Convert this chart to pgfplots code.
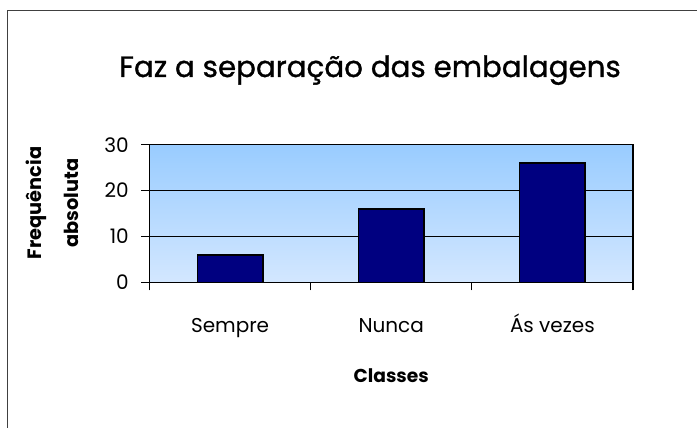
\documentclass[border=0pt]{standalone}
\usepackage{fontspec}
\setmainfont{Poppins}
\newfontfamily\titlefont{Poppins}[FakeBold=1]
\usepackage{pgfplots}
\pgfplotsset{compat=1.18}
\definecolor{navybar}{HTML}{000080}
\definecolor{bgtop}{HTML}{99CCFF}
\definecolor{bgbot}{HTML}{D3E7FF}
\definecolor{framegray}{HTML}{404040}
\begin{document}
\begin{tikzpicture}
\useasboundingbox (0,0) rectangle (522.75pt,-321pt);
\draw[framegray, line width=1pt] (5.5pt,-325pt) -- (5.5pt,-8pt) -- (525pt,-8pt);
\node[anchor=base, font=\titlefont\fontsize{22}{26}\selectfont, inner sep=0pt] at (277.5pt,-57.75pt) {Faz a separação das embalagens};
\begin{axis}[
  at={(112.125pt,-211.725pt)}, anchor=south west,
  scale only axis, width=362.625pt, height=103.2pt,
  xmin=-0.5, xmax=2.5, ymin=0, ymax=30,
  xtick={0,1,2}, xticklabels={Sempre,Nunca,Ás vezes},
  major x tick style={draw=none},
  minor xtick={-0.5,0.5,1.5,2.5},
  ytick={0,10,20,30},
  xtick pos=bottom, ytick pos=left,
  tick align=outside, major tick length=6pt, minor tick length=6pt,
  tick style={black, line width=0.8pt},
  ymajorgrids, grid style={black, line width=0.7pt},
  axis line style={black, line width=1.1pt},
  axis background/.style={top color=bgtop, bottom color=bgbot},
  /pgf/number format/assume math mode=true,
  ticklabel style={font=\fontsize{15}{18}\selectfont},
  xticklabel style={anchor=base, yshift=-31.5pt},
  yticklabel style={xshift=-6pt},
  xlabel={Classes},
  xlabel style={at={(axis description cs:0.5,0)}, anchor=base, yshift=-74.8pt, font=\bfseries\fontsize{14}{17}\selectfont},
  ylabel={Frequência\\[12pt]absoluta},
  ylabel style={at={([xshift=-73pt]axis description cs:0,0.576)}, anchor=center, align=center, font=\bfseries\fontsize{14.5}{16}\selectfont},
]
\addplot[ybar, bar width=0.406, fill=navybar, draw=black, line width=1.1pt] coordinates {(0,6) (1,16) (2,26)};
\end{axis}
\end{tikzpicture}
\end{document}
